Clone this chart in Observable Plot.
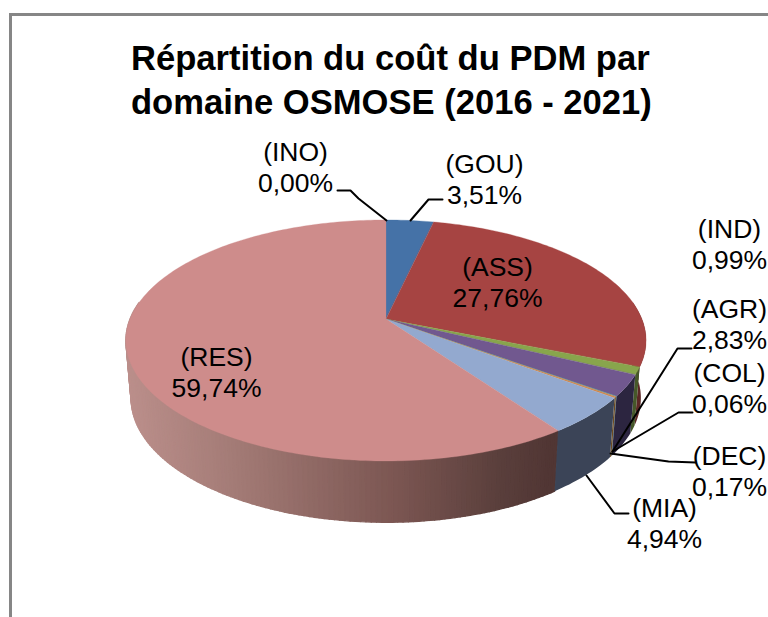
<!DOCTYPE html>
<html><head><meta charset="utf-8">
<script src="https://cdn.jsdelivr.net/npm/d3@7"></script>
<script src="https://cdn.jsdelivr.net/npm/@observablehq/plot@0.6"></script>
<style>
html,body{margin:0;padding:0;background:#fff;overflow:hidden;width:768px;height:617px}
#frame{position:absolute;left:9px;top:13px;width:759px;height:604px;border-left:3px solid #868686;border-top:3px solid #868686;box-sizing:border-box}
#title{position:absolute;left:131px;top:36px;white-space:nowrap;font:bold 34.6px/44px "Liberation Sans",Arial,sans-serif;color:#000}
#chart{position:absolute;left:0;top:130px}
svg{display:block;overflow:hidden}
</style></head><body>
<div id="frame"></div>
<div id="title">Répartition du coût du PDM par<br>domaine OSMOSE (2016 - 2021)</div>
<div id="chart"></div>
<script>
const codes  = ["INO","GOU","ASS","IND","AGR","COL","DEC","MIA","RES"];
const shares = [0.00, 3.51, 27.76, 0.99, 2.83, 0.06, 0.17, 4.94, 59.74];
const topColors  = ["#aa4643","#4572a7","#a64442","#88a54c","#71588f","#4198af","#db843d","#93a9cf","#ce8c8b"];
const sideColors = ["#5a2a28","#2a4060","#5c2826","#46582a","#2c2540","#204a58","#6e4a20","#3b4457",null];
const resSideX = [127,240,400,500,550,600];
const resSideC = ["#bb8f8b","#a27a75","#7a5551","#5a3f3c","#513634","#513634"];

// label anchors and leader-line layout
const labelX = [295,484,497,729,729,729,729,664,216];
const labelY = [166,178,281,243,323,387,470,522,371];
const leaders = {
  INO:[[337,190],[350,190],[358,198],[386,220]],
  GOU:[[442,199],[428,199],[410,220]],
  AGR:[[691,348],[677,348],[612,451]],
  COL:[[692,412],[678,412],[612,451]],
  DEC:[[695,462],[668,461],[610,453]],
  MIA:[[628,513],[614,513],[586,475]]
};

// projected disc
const cx=386, cy=319, k=0.178, rx0=255.9, ry0=116.7;
const topPt = a => { const u=Math.sin(a), v=-Math.cos(a), w=1-k*v; return [cx+rx0*u/w, cy+ry0*v/w]; };
const botPt = a => { const u=Math.sin(a), v=-Math.cos(a), w=1-k*v; return [cx+0.98*rx0*u/w, cy+57+1.03*ry0*v/w]; };

const total = d3.sum(shares);
let acc = 0;
const slices = codes.map((c,i)=>{ const a0=acc/total*2*Math.PI; acc+=shares[i]; return {c,i,a0,a1:acc/total*2*Math.PI}; });

const resColor = d3.scaleLinear().domain(resSideX).range(resSideC).interpolate(d3.interpolateRgb).clamp(true);

const faceRows = [], flatRows = [], strips = [];
for (const s of slices) {
  if (s.a1<=s.a0) continue;
  const n = Math.max(2, Math.ceil((s.a1-s.a0)*180/Math.PI));
  for (let j=0;j<=n;j++){
    const a = s.a0+(s.a1-s.a0)*j/n, p = topPt(a);
    faceRows.push({key:s.c, fill:topColors[s.i], x:p[0], y:p[1]});
    if (sideColors[s.i] && -Math.cos(a) > -0.15) {
      const q = botPt(a);
      flatRows.push({id:s.c, col:sideColors[s.i], x1:p[0], y1:p[1], x2:q[0], y2:q[1]});
    }
  }
  if (!sideColors[s.i]) for (let j=0;j<n;j++){
    const a=s.a0+(s.a1-s.a0)*j/n, b=s.a0+(s.a1-s.a0)*(j+1)/n, m=(a+b)/2;
    if (-Math.cos(m) < -0.15) continue;
    const col = resColor(topPt(m)[0]), id = s.c+j;
    strips.push({order:-Math.cos(m), rows:[a,b].map(t=>{const p=topPt(t),q=botPt(t);return {id,col,x1:p[0],y1:p[1],x2:q[0],y2:q[1]};})});
  }
}
strips.sort((p,q)=>p.order-q.order);
const stripRows = strips.flatMap(s=>s.rows);

const labels = codes.map((c,i)=>({text:`(${c})\n${shares[i].toFixed(2).replace(".",",")}%`, x:labelX[i], y:labelY[i]}));
const leaderRows = Object.entries(leaders).flatMap(([c,pts])=>pts.map(p=>({c,x:p[0],y:p[1]})));

const plot = Plot.plot({
  width:768, height:487, margin:0,
  style:{background:"transparent"},
  x:{domain:[0,768],range:[0,768],axis:null},
  y:{domain:[130,617],range:[0,487],axis:null},
  marks:[
    Plot.area(stripRows,{x1:"x1",y1:"y1",x2:"x2",y2:"y2",z:"id",fill:"col",stroke:"col",strokeWidth:1.4}),
    Plot.area(flatRows,{x1:"x1",y1:"y1",x2:"x2",y2:"y2",z:"id",fill:"col"}),
    Plot.area(faceRows,{x1:()=>cx,y1:()=>cy,x2:"x",y2:"y",z:"key",fill:"fill",stroke:"fill",strokeWidth:0.3}),
    Plot.line(leaderRows,{x:"x",y:"y",z:"c",stroke:"#000",strokeWidth:2,curve:"linear"}),
    Plot.text(labels,{x:"x",y:"y",text:"text",fill:"#000",fontSize:26.5,lineHeight:1.17,fontFamily:"Liberation Sans, Arial, sans-serif",lineAnchor:"middle",textAnchor:"middle"})
  ]
});
document.getElementById("chart").appendChild(plot);
</script>
</body></html>
